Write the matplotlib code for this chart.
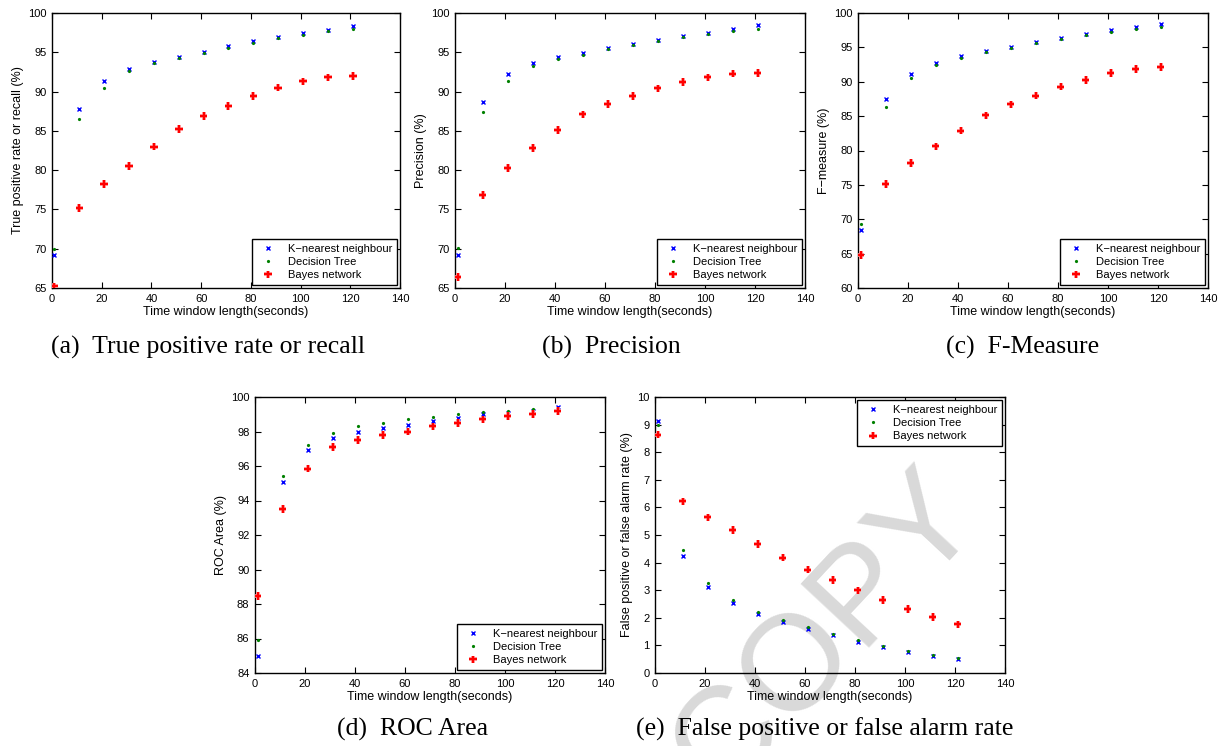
import matplotlib
matplotlib.use("Agg")
import matplotlib.pyplot as plt
import matplotlib.patheffects as pe

# time window lengths (seconds)
time_window = [1, 11, 21, 31, 41, 51, 61, 71, 81, 91, 101, 111, 121]

# (a) true positive rate or recall (%)
knn_recall = [69.2, 87.8, 91.3, 92.9, 93.8, 94.4, 95.0, 95.8, 96.4, 96.9, 97.4, 97.9, 98.3]
dt_recall = [69.9, 86.5, 90.5, 92.6, 93.6, 94.3, 94.9, 95.6, 96.2, 96.8, 97.2, 97.7, 98.0]
bayes_recall = [65.2, 75.2, 78.2, 80.5, 83.0, 85.2, 86.9, 88.2, 89.4, 90.5, 91.3, 91.8, 92.0]

# (b) precision (%)
knn_precision = [69.2, 88.7, 92.2, 93.7, 94.4, 94.9, 95.5, 96.1, 96.6, 97.1, 97.5, 98.0, 98.5]
dt_precision = [70.1, 87.4, 91.3, 93.2, 94.1, 94.7, 95.4, 95.9, 96.4, 96.9, 97.3, 97.7, 98.0]
bayes_precision = [66.4, 76.8, 80.3, 82.8, 85.1, 87.1, 88.4, 89.4, 90.4, 91.2, 91.8, 92.3, 92.4]

# (c) F-measure (%)
knn_fmeasure = [68.5, 87.5, 91.2, 92.8, 93.8, 94.5, 95.1, 95.8, 96.4, 96.9, 97.5, 98.0, 98.4]
dt_fmeasure = [69.3, 86.4, 90.5, 92.5, 93.5, 94.3, 94.9, 95.6, 96.2, 96.8, 97.2, 97.7, 98.0]
bayes_fmeasure = [64.8, 75.1, 78.2, 80.6, 82.9, 85.1, 86.7, 88.0, 89.3, 90.3, 91.3, 91.9, 92.1]

# (d) ROC area (%)
knn_roc = [85.0, 95.1, 96.9, 97.6, 97.95, 98.2, 98.4, 98.6, 98.8, 99.0, 99.1, 99.2, 99.4]
dt_roc = [85.9, 95.4, 97.2, 97.9, 98.3, 98.5, 98.7, 98.85, 99.0, 99.15, 99.2, 99.3, 99.3]
bayes_roc = [88.45, 93.5, 95.85, 97.1, 97.5, 97.8, 98.0, 98.3, 98.5, 98.7, 98.9, 99.0, 99.2]

# (e) false positive or false alarm rate (%)
knn_fpr = [9.14, 4.25, 3.1, 2.55, 2.13, 1.86, 1.61, 1.39, 1.14, 0.95, 0.76, 0.63, 0.51]
dt_fpr = [8.98, 4.45, 3.27, 2.63, 2.2, 1.92, 1.65, 1.42, 1.19, 0.98, 0.81, 0.66, 0.55]
bayes_fpr = [8.64, 6.22, 5.64, 5.17, 4.67, 4.18, 3.75, 3.37, 2.99, 2.64, 2.31, 2.02, 1.76]

series_names = ["K\u2212nearest neighbour", "Decision Tree", "Bayes network"]

W, H = 1223, 746

fig = plt.figure(figsize=(W / 100, H / 100), dpi=100)
plt.rcParams['font.family'] = ['Liberation Sans', 'DejaVu Sans']


def add_panel(left, top, width, height, knn, dt, bayes, ylim, yticks, ylabel, legend_loc):
    # axes box given in pixels from the top-left corner of the picture
    ax = fig.add_axes([left / W, 1 - (top + height) / H, width / W, height / H])
    ax.set_facecolor('none')
    ax.plot(time_window, knn, linestyle='none', marker='x', color='blue',
            markersize=3.5, markeredgewidth=1.0, label=series_names[0], zorder=3)
    ax.plot(time_window, dt, linestyle='none', marker='o', color='green',
            markersize=2.3, markeredgewidth=0, label=series_names[1], zorder=3)
    ax.plot(time_window, bayes, linestyle='none', marker='+', color='red',
            markersize=5.5, markeredgewidth=1.6, label=series_names[2], zorder=4,
            path_effects=[pe.withStroke(linewidth=2.6, foreground='#ffb4b4'), pe.Normal()])
    ax.set_xlim(0, 140)
    ax.set_xticks(range(0, 141, 20))
    ax.set_ylim(*ylim)
    ax.set_yticks(yticks)
    ax.tick_params(direction='in', top=True, right=True, length=4, width=0.8,
                   labelsize=8, pad=4)
    for spine in ax.spines.values():
        spine.set_linewidth(1.0)
    ax.set_xlabel('Time window length(seconds)', fontsize=9, labelpad=2)
    ax.set_ylabel(ylabel, fontsize=9, labelpad=3)
    leg = ax.legend(loc=legend_loc, fontsize=8, fancybox=False, framealpha=1,
                    edgecolor='black', handlelength=2.0, handletextpad=0.8,
                    borderpad=0.4, labelspacing=0.3, borderaxespad=0.3)
    leg.get_frame().set_linewidth(1.0)
    return ax


add_panel(52, 13, 348, 275, knn_recall, dt_recall, bayes_recall, (65, 100),
          range(65, 101, 5), 'True positive rate or recall (%)', 'lower right')
add_panel(455, 13, 350, 275, knn_precision, dt_precision, bayes_precision, (65, 100),
          range(65, 101, 5), 'Precision (%)', 'lower right')
add_panel(858, 13, 350, 275, knn_fmeasure, dt_fmeasure, bayes_fmeasure, (60, 100),
          range(60, 101, 5), 'F\u2212measure (%)', 'lower right')
add_panel(255, 397, 350, 276, knn_roc, dt_roc, bayes_roc, (84, 100),
          range(84, 101, 2), 'ROC Area (%)', 'lower right')
add_panel(655, 397, 350, 276, knn_fpr, dt_fpr, bayes_fpr, (0, 10),
          range(0, 11, 1), 'False positive or false alarm rate (%)', 'upper right')

# sub-figure captions
captions = ["(a)  True positive rate or recall", "(b)  Precision", "(c)  F-Measure",
            "(d)  ROC Area", "(e)  False positive or false alarm rate"]
caption_pos = [(208, 347), (611, 347), (1023, 347), (413, 729), (825, 729)]
for text, (cx, cy) in zip(captions, caption_pos):
    fig.text(cx / W, 1 - cy / H, text, ha='center', va='center', fontsize=18.5,
             family=['Liberation Serif', 'DejaVu Serif'])

# grey watermark behind everything (runs off the bottom edge as in the original)
fig.text(826 / W, 1 - 634 / H, 'COPY', ha='center', va='center', fontsize=98,
         rotation=47, rotation_mode='anchor', color='#d9d9d9', zorder=-1)

fig.savefig('out.png', dpi=100)
